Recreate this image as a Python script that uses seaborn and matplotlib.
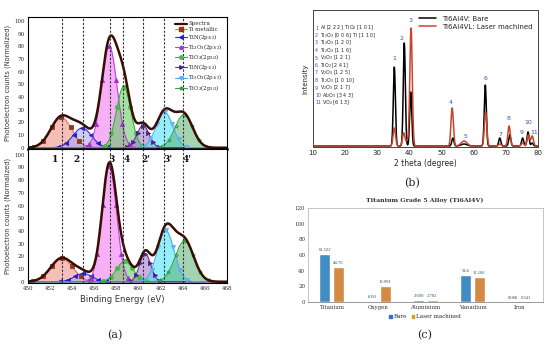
import numpy as np
import pandas as pd
import matplotlib
matplotlib.use("Agg")
import matplotlib.pyplot as plt
from matplotlib.lines import Line2D
from matplotlib.patches import Patch
import seaborn as sns

sns.set_theme(style="white")
plt.rcParams['font.family'] = ['DejaVu Sans']

# ---------------- Panel (a) data: XPS Ti 2p fitted components ----------------
comp_names = ["Ti metallic", "TiN(2p$_{3/2}$)", "Ti$_2$O$_3$(2p$_{3/2}$)", "TiO$_2$(2p$_{3/2}$)",
              "TiN(2p$_{1/2}$)", "Ti$_2$O$_3$(2p$_{1/2}$)", "TiO$_2$(2p$_{1/2}$)"]
top_centers = [453.0, 454.9, 457.35, 458.65, 460.4, 462.35, 464.1]
top_heights = [24, 15.5, 80, 48, 17.5, 28, 26]
top_sigmas = [0.95, 0.85, 0.7, 0.65, 0.55, 0.75, 0.8]
bot_centers = [453.05, 455.0, 457.35, 458.75, 460.6, 462.45, 464.15]
bot_heights = [18.5, 6.5, 91, 16, 22, 40.5, 32]
bot_sigmas = [1.0, 0.8, 0.65, 0.75, 0.5, 0.75, 0.85]
peak_lines = [453.04, 454.95, 457.41, 458.62, 460.37, 462.33, 464.05]
peak_labels = ["1", "2", "3", "4", "2'", "3'", "4'"]

# ---------------- Panel (b) data: XRD peaks ----------------
bare_pos = [35.3, 38.4, 40.4, 53.5, 57.0, 63.6, 68.1, 71.2, 75.2, 76.9, 78.2]
bare_int = [79, 103, 54, 8, 2, 61, 8, 11, 8, 14, 3]
laser_pos = [35.3, 38.2, 39.3, 40.5, 53.3, 57.0, 63.7, 68.1, 71.0, 75.2, 77.0, 78.2]
laser_int = [18, 13, 5, 118, 38, 5, 34, 2, 20, 3, 11, 10]
peak_num = ["1", "2", "3", "4", "5", "6", "7", "8", "9", "10", "11"]
peak_num_x = [35.3, 37.6, 40.2, 52.8, 57.3, 63.7, 68.2, 70.7, 74.9, 77.1, 78.9]
peak_num_y = [87, 108, 125, 44, 10, 68, 12, 27, 14, 23, 13]
phase_list = ["Al [2 2 2], TiO$_2$ [1 0 1]", "Ti$_2$O$_3$ [0 0 6], Ti [1 1 0]", "Ti$_2$O$_3$ [1 2 0]",
              "Ti$_2$O$_3$ [1 1 6]", "V$_2$O$_3$ [1 2 1]", "TiO$_2$ [2 4 1]", "V$_2$O$_3$ [1 2 5]",
              "Ti$_2$O$_3$ [1 0 10]", "V$_2$O$_3$ [2 1 7]", "Al$_2$O$_3$ [3 4 3]", "VO$_2$ [6 1 3]"]

# ---------------- Panel (c) data: composition ----------------
elements = ["Titanium", "Oxygen", "Aluminium", "Vanadium", "Iron"]
bare_pct = [61.522, 1.091, 2.699, 34.6, 0.088]
laser_pct = [44.76, 19.991, 2.702, 32.106, 0.341]
bare_lbl = ["61.522", "1.091", "2.699", "34.6", "0.088"]
laser_lbl = ["44.76", "19.991", "2.702", "32.106", "0.341"]

W, H = 550, 347
fig = plt.figure(figsize=(5.5, 3.47), dpi=100)
fig.patch.set_facecolor("white")

def ax_px(l, t, r, b):
    return fig.add_axes([l / W, 1 - b / H, (r - l) / W, (b - t) / H])

def txt(x, y, s, **kw):
    fig.text(x / W, 1 - y / H, s, **kw)

def gauss(x, c, h, s):
    return h * np.exp(-(x - c) ** 2 / (2 * s ** 2))

fill_cols = ["#ef8a80", "#a9a0f0", "#f070f0", "#60c860", "#a070c8", "#40e0f8", "#58b070"]
line_cols = ["#e07060", "#3030e0", "#c040e0", "#30b030", "#6030a0", "#50a8f0", "#40a050"]
mark_cols = ["#8b3a1a", "#2020d0", "#a030d0", "#40c040", "#502090", "#60b0f0", "#30a040"]
markers = ["s", "<", "^", "o", ">", "v", "*"]
env_col = "#3a0c02"
serif = ["DejaVu Serif"]
nserif = ["Liberation Serif"]

xg = np.linspace(450, 468, 900)

def xps_panel(ax, centers, heights, sigmas, ylim):
    total = np.zeros_like(xg)
    for i in range(len(centers)):
        yc = gauss(xg, centers[i], heights[i], sigmas[i])
        total += yc
        ax.fill_between(xg, 0, yc, color=fill_cols[i], alpha=0.55, lw=0)
        sns.lineplot(x=xg, y=yc, ax=ax, color=line_cols[i], lw=0.8)
        mx = centers[i] + sigmas[i] * np.array([-2.6, -1.7, -0.9, 0, 0.9, 1.7, 2.6])
        my = gauss(mx, centers[i], heights[i], sigmas[i])
        mfc = "none" if markers[i] == "*" else mark_cols[i]
        ax.plot(mx, my, ls="none", marker=markers[i], ms=3, color=mark_cols[i], mfc=mfc, mew=0.6)
    sns.lineplot(x=xg, y=total, ax=ax, color=env_col, lw=1.8)
    for xl in peak_lines:
        ax.axvline(xl, ymin=0, ymax=1, color="#333333", ls=(0, (2, 1.5)), lw=0.8)
    ax.set_xlim(450, 468)
    ax.set_ylim(*ylim)
    ax.set_yticks(range(0, 101, 10))
    ax.set_xticks(range(450, 469, 2))
    ax.tick_params(axis="both", labelsize=4, length=1.5, pad=1, direction="out")
    for lab in ax.get_yticklabels() + ax.get_xticklabels():
        lab.set_family(serif)
    for sp in ax.spines.values():
        sp.set_color("black")
        sp.set_linewidth(0.8)
    ax.set_xlabel("")
    ax.set_ylabel("Photoelectron counts (Normalized)", fontsize=4.8, labelpad=2, color="#333333")

ax_top = ax_px(28, 17, 227, 149)
xps_panel(ax_top, top_centers, top_heights, top_sigmas, (-1, 103))
ax_top.set_xticklabels([])
ax_top.spines["bottom"].set_linewidth(1.8)
handles = [Line2D([0], [0], color=env_col, lw=1.6)]
for i in range(7):
    mfc = "none" if markers[i] == "*" else mark_cols[i]
    handles.append(Line2D([0], [0], color=line_cols[i], lw=0.8, marker=markers[i], ms=2.5,
                          mfc=mfc, mec=mark_cols[i]))
leg = ax_top.legend(handles, ["Spectra"] + comp_names, loc="upper right",
                    frameon=False, handlelength=2.0, labelspacing=0.12, borderaxespad=0.4,
                    handletextpad=0.3, prop={"family": serif, "size": 4.0})

ax_bot = ax_px(28, 149, 227, 283)
xps_panel(ax_bot, bot_centers, bot_heights, bot_sigmas, (-1, 104.5))
ax_bot.set_xticklabels([str(v) for v in range(450, 469, 2)])

label_offsets = [-0.55, -0.55, 0.1, 0.3, 0.3, 0.3, 0.3]
for xl, lab, off in zip(peak_lines, peak_labels, label_offsets):
    ax_bot.text(xl + off, 96, lab, ha="center", va="center", fontsize=6.5,
                fontweight="bold", family=serif, color="#111111")

txt(122, 299, "Binding Energy (eV)", ha="center", va="center", fontsize=6, color="#333333")
txt(115, 335, "(a)", ha="center", va="center", fontsize=8, family=serif)

# ---------------- Panel (b) ----------------
axb = ax_px(313, 10, 538, 147)
tt = np.linspace(10, 80, 2000)
bare_curve = np.zeros_like(tt)
for p, h in zip(bare_pos, bare_int):
    s = 0.9 if p == 57.0 else 0.32
    bare_curve += gauss(tt, p, h, s)
laser_curve = np.zeros_like(tt)
for p, h in zip(laser_pos, laser_int):
    s = 0.9 if p == 57.0 else 0.38
    laser_curve += gauss(tt, p, h, s)
df_b = pd.DataFrame({"theta": np.concatenate([tt, tt]),
                     "I": np.concatenate([bare_curve, laser_curve]),
                     "sample": ["Ti6Al4V: Bare"] * len(tt) + ["Ti6Al4VL: Laser machined"] * len(tt)})
sns.lineplot(data=df_b, x="theta", y="I", hue="sample", ax=axb,
             palette={"Ti6Al4V: Bare": "black", "Ti6Al4VL: Laser machined": "#c8452d"}, lw=1.1)
axb.set_xlim(10, 80)
axb.set_ylim(-1, 136)
axb.set_yticks([])
axb.set_xticks(range(10, 81, 10))
axb.tick_params(axis="x", labelsize=5, length=1.5, pad=1)
axb.set_xlabel("2 theta (degree)", fontsize=5.5, labelpad=2)
axb.set_ylabel("Intensity", fontsize=5, labelpad=3)
for sp in axb.spines.values():
    sp.set_color("#444444")
    sp.set_linewidth(0.7)
axb.legend(loc="upper right", fontsize=5, frameon=False, handlelength=2.5,
           labelspacing=0.3, borderaxespad=0.4, title=None)
for n, x, y in zip(peak_num, peak_num_x, peak_num_y):
    axb.text(x, y, n, ha="center", va="center", fontsize=4.5, color="#2f55b8")
for i, s in enumerate(phase_list):
    y = 28 + i * 7.5
    txt(315, y, str(i + 1), ha="left", va="center", fontsize=3.4, color="#2f55b8")
    txt(319.5 if i < 9 else 321.5, y, s, ha="left", va="center", fontsize=3.4, color="#222222")
txt(412, 183, "(b)", ha="center", va="center", fontsize=8, family=serif)

# ---------------- Panel (c) ----------------
axc = ax_px(308, 208, 543, 302)
df_c = pd.DataFrame({"element": elements * 2,
                     "pct": bare_pct + laser_pct,
                     "sample": ["Bare"] * 5 + ["Laser machined"] * 5})
sns.barplot(data=df_c, x="element", y="pct", hue="sample", ax=axc,
            palette={"Bare": "#2e8fd6", "Laser machined": "#ec8a2a"},
            width=0.58, gap=0.15, legend=False)
axc.set_xlim(-0.5, 4.5)
axc.set_ylim(0, 120)
axc.set_yticks(range(0, 121, 20))
axc.tick_params(axis="both", labelsize=4, length=0, pad=2)
for lab in axc.get_yticklabels() + axc.get_xticklabels():
    lab.set_family(serif)
    lab.set_color("#333333")
axc.set_xlabel("")
axc.set_ylabel("")
for sp in axc.spines.values():
    sp.set_color("#bbbbbb")
    sp.set_linewidth(0.6)
axc.spines["bottom"].set_color("#888888")
for cont, labs in zip(axc.containers, [bare_lbl, laser_lbl]):
    axc.bar_label(cont, labels=labs, fontsize=3.3, padding=1.5, family=nserif, color="#305050")
txt(425, 200, "Titanium Grade 5 Alloy (Ti6Al4V)", ha="center", va="center", fontsize=4.5,
    fontweight="bold", family=serif, color="#333333")
lh = [Patch(color="#2e6fd0"), Patch(color="#d8a020")]
fig.legend(lh, ["Bare", "Laser machined"], loc="center", bbox_to_anchor=(425 / W, 1 - 317 / H),
           ncol=2, frameon=False, handlelength=0.5, handleheight=0.5, columnspacing=0.8,
           handletextpad=0.3, prop={"family": serif, "size": 4})
txt(425, 335, "(c)", ha="center", va="center", fontsize=8, family=serif)

fig.savefig("out.png", dpi=100, facecolor="white")
